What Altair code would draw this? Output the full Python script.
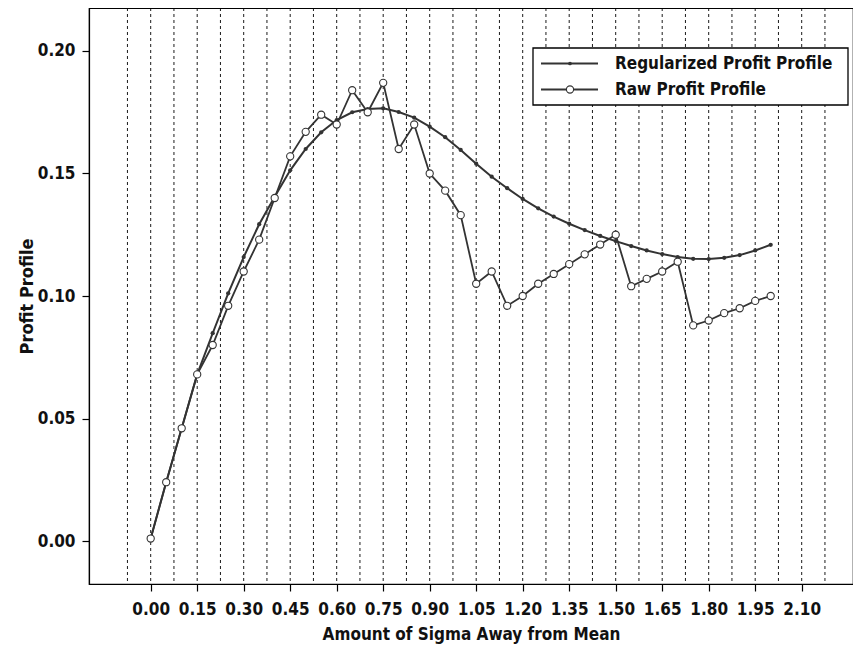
import altair as alt
import pandas as pd

# ---------------- data ----------------
sigma = [0.00, 0.05, 0.10, 0.15, 0.20, 0.25, 0.30, 0.35, 0.40, 0.45,
         0.50, 0.55, 0.60, 0.65, 0.70, 0.75, 0.80, 0.85, 0.90, 0.95,
         1.00, 1.05, 1.10, 1.15, 1.20, 1.25, 1.30, 1.35, 1.40, 1.45,
         1.50, 1.55, 1.60, 1.65, 1.70, 1.75, 1.80, 1.85, 1.90, 1.95, 2.00]

raw_profit = [0.001, 0.024, 0.046, 0.068, 0.080, 0.096, 0.110, 0.123, 0.140, 0.157,
              0.167, 0.174, 0.170, 0.184, 0.175, 0.187, 0.160, 0.170, 0.150, 0.143,
              0.133, 0.105, 0.110, 0.096, 0.100, 0.105, 0.109, 0.113, 0.117, 0.121,
              0.125, 0.104, 0.107, 0.110, 0.114, 0.088, 0.090, 0.093, 0.095, 0.098, 0.100]

reg_profit = [0.001, 0.024, 0.046, 0.068, 0.0848, 0.1011, 0.1159, 0.1293, 0.1405, 0.1513,
              0.1600, 0.1668, 0.1718, 0.1750, 0.1763, 0.1766, 0.1751, 0.1728, 0.1691, 0.1648,
              0.1596, 0.1540, 0.1487, 0.1440, 0.1396, 0.1358, 0.1324, 0.1295, 0.1269, 0.1245,
              0.1224, 0.1204, 0.1186, 0.1171, 0.1159, 0.1152, 0.1151, 0.1156, 0.1167, 0.1186, 0.1209]

x_ticks = [0.00, 0.15, 0.30, 0.45, 0.60, 0.75, 0.90, 1.05, 1.20, 1.35,
           1.50, 1.65, 1.80, 1.95, 2.10]
y_ticks = [0.00, 0.05, 0.10, 0.15, 0.20]
grid_x = [-0.075, 0.0, 0.075, 0.15, 0.225, 0.30, 0.375, 0.45, 0.525, 0.60,
          0.675, 0.75, 0.825, 0.90, 0.975, 1.05, 1.125, 1.20, 1.275, 1.35,
          1.425, 1.50, 1.575, 1.65, 1.725, 1.80, 1.875, 1.95, 2.025, 2.10, 2.175]

series_names = ["Regularized Profit Profile", "Raw Profit Profile"]

# ---------------- styling ----------------
FONT = "'DejaVu Sans Condensed', 'DejaVu Sans', sans-serif"
INK = "#333333"

df = pd.DataFrame({"sigma": sigma, "raw": raw_profit, "reg": reg_profit})
grid_df = pd.DataFrame({"g": grid_x})

x_scale = alt.Scale(domain=[-0.199, 2.2655], nice=False, zero=False)
y_scale = alt.Scale(domain=[-0.01755, 0.21755], nice=False, zero=False)

x_axis = alt.Axis(values=x_ticks, format=".2f", title="Amount of Sigma Away from Mean",
                  grid=False, tickSize=7, labelPadding=10, labelOverlap=False,
                  labelFlush=False, titlePadding=9)
y_axis = alt.Axis(values=y_ticks, format=".2f", title="Profit Profile",
                  grid=False, tickSize=7, labelPadding=7, labelOverlap=False,
                  labelFlush=False, titlePadding=1, titleFontSize=18)

grid = alt.Chart(grid_df).mark_rule(color="#000000", strokeWidth=0.9, strokeDash=[3, 3]).encode(
    x=alt.X("g:Q", scale=x_scale, axis=x_axis)
)

reg_line = alt.Chart(df).mark_line(color=INK, strokeWidth=2).encode(
    x=alt.X("sigma:Q", scale=x_scale, axis=x_axis),
    y=alt.Y("reg:Q", scale=y_scale, axis=y_axis),
)
reg_pts = alt.Chart(df).mark_point(filled=True, color=INK, size=18, opacity=1).encode(
    x=alt.X("sigma:Q", scale=x_scale),
    y=alt.Y("reg:Q", scale=y_scale),
)
raw_line = alt.Chart(df).mark_line(color=INK, strokeWidth=1.8).encode(
    x=alt.X("sigma:Q", scale=x_scale),
    y=alt.Y("raw:Q", scale=y_scale),
)
raw_pts = alt.Chart(df).mark_point(shape="circle", filled=False, fill="white", fillOpacity=1,
                                   stroke=INK, strokeWidth=1.1, size=52, opacity=1).encode(
    x=alt.X("sigma:Q", scale=x_scale),
    y=alt.Y("raw:Q", scale=y_scale),
)

# ---------------- legend (drawn inside the plot, top right) ----------------
box = alt.Chart(alt.Data(values=[{"k": 1}])).mark_rect(
    fill="white", stroke="#000000", strokeWidth=1.3
).encode(x=alt.value(444), x2=alt.value(759), y=alt.value(40), y2=alt.value(97))

legend_layers = [box]
row_y = [55.5, 81.5]
for i, name in enumerate(series_names):
    d = alt.Data(values=[{"label": name}])
    legend_layers.append(
        alt.Chart(d).mark_rule(color=INK, strokeWidth=2.2).encode(
            x=alt.value(452), x2=alt.value(509), y=alt.value(row_y[i]))
    )
    if i == 0:
        legend_layers.append(
            alt.Chart(d).mark_point(filled=True, color=INK, size=14, opacity=1).encode(
                x=alt.value(481), y=alt.value(row_y[i]))
        )
    else:
        legend_layers.append(
            alt.Chart(d).mark_point(shape="circle", filled=False, fill="white", fillOpacity=1,
                                    stroke=INK, strokeWidth=1.1, size=52, opacity=1).encode(
                x=alt.value(481), y=alt.value(row_y[i]))
        )
    legend_layers.append(
        alt.Chart(d).mark_text(align="left", baseline="middle", font=FONT, fontSize=17,
                               fontWeight="bold", color="#111111").encode(
            x=alt.value(526), y=alt.value(row_y[i]), text=alt.Text("label:N"))
    )

chart = alt.layer(grid, reg_line, reg_pts, raw_line, raw_pts, *legend_layers).properties(
    width=764,
    height=576,
    autosize=alt.AutoSizeParams(type="none"),
    padding={"left": 81, "top": 0, "right": 0, "bottom": 60},
    background="white",
).configure_view(
    stroke="#000000", strokeWidth=1.2
).configure_axis(
    domainColor="#000000", domainWidth=1.2, tickColor="#000000", tickWidth=1.2,
    labelFont=FONT, labelFontSize=17, labelFontWeight="bold", labelColor="#111111",
    titleFont=FONT, titleFontSize=17, titleFontWeight="bold", titleColor="#111111",
)

chart.save("out.html", embed_options={"renderer": "svg", "actions": False})
